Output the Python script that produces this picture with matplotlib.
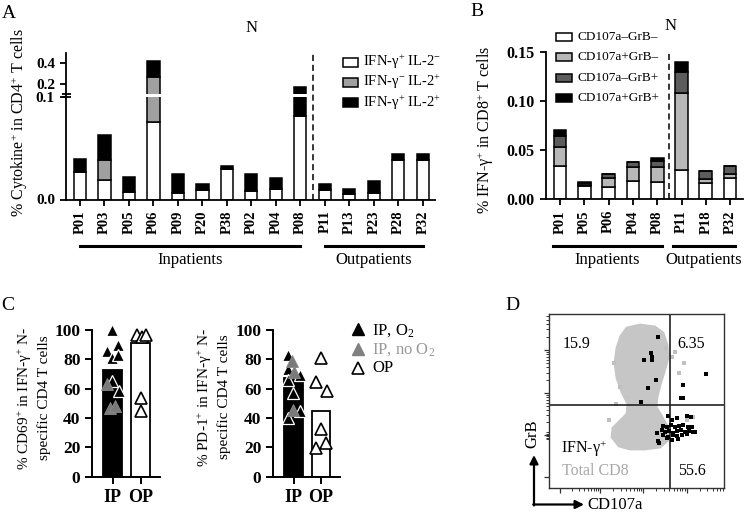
import numpy as np
import matplotlib
matplotlib.use("Agg")
import matplotlib.pyplot as plt
from matplotlib.patches import Rectangle, Polygon
from matplotlib.transforms import blended_transform_factory
from matplotlib.ticker import NullLocator, FixedLocator

plt.rcParams['font.family'] = ['Liberation Serif', 'DejaVu Serif']
plt.rcParams['mathtext.fontset'] = 'custom'
plt.rcParams['mathtext.rm'] = 'Liberation Serif'
plt.rcParams['mathtext.it'] = 'Liberation Serif:italic'
plt.rcParams['mathtext.bf'] = 'Liberation Serif:bold'

# ---------------- data ----------------
# Panel A
patients_A = ['P01', 'P03', 'P05', 'P06', 'P09', 'P20', 'P38', 'P02', 'P04', 'P08',
              'P11', 'P13', 'P23', 'P28', 'P32']
a_ifng_il2neg = [0.027, 0.019, 0.0074, 0.0753, 0.0068, 0.009, 0.030, 0.0083, 0.0103, 0.081,
                 0.009, 0.0051, 0.0068, 0.0388, 0.0388]
a_ifngneg_il2 = [0, 0.0194, 0, 0.192, 0, 0, 0, 0, 0, 0, 0, 0, 0, 0, 0]
a_ifng_il2 = [0.0128, 0.024, 0.0145, 0.153, 0.0178, 0.0065, 0.0026, 0.0169, 0.0107, 0.084,
              0.0065, 0.0049, 0.011, 0.0055, 0.0055]
a_n_inpatients = 10
a_legend = ['IFN-γ$^{+}$ IL-2$^{-}$', 'IFN-γ$^{-}$ IL-2$^{+}$', 'IFN-γ$^{+}$ IL-2$^{+}$']

# Panel B
patients_B = ['P01', 'P05', 'P06', 'P04', 'P08', 'P11', 'P18', 'P32']
b_neg_neg = [0.034, 0.013, 0.012, 0.0184, 0.017, 0.030, 0.016, 0.021]
b_pos_neg = [0.0187, 0.001, 0.009, 0.0146, 0.0153, 0.078, 0.004, 0.0045]
b_neg_pos = [0.0119, 0.0025, 0.0045, 0.0045, 0.0062, 0.022, 0.0086, 0.0085]
b_pos_pos = [0.0054, 0.0005, 0.0005, 0.0005, 0.0033, 0.0095, 0.0, 0.0]
b_n_inpatients = 5
b_legend = ['CD107a–GrB–', 'CD107a+GrB–', 'CD107a–GrB+', 'CD107a+GrB+']

# Panel C
c_groups = ['IP', 'OP']
cd69_bar = [72.7, 91.0]
cd69_ip_o2 = [100, 85.7, 89.5, 80.7, 83, 65.2, 58.6]
cd69_ip_o2_jit = [-0.02, -0.22, 0.2, -0.04, 0.2, -0.03, 0.22]
cd69_ip_no = [63, 46.6, 48.5]
cd69_ip_no_jit = [-0.22, -0.1, 0.09]
cd69_op = [96.5, 95.5, 96.5, 53.4, 45]
cd69_op_jit = [-0.12, 0.04, 0.19, 0.0, 0.0]

pd1_bar = [67.0, 45.0]
pd1_ip_o2 = [83, 73.2, 69.1, 65.9, 57.3, 39.8, 45]
pd1_ip_o2_jit = [-0.2, -0.2, 0.22, -0.2, -0.02, -0.2, 0.22]
pd1_ip_no = [79.1, 71.1, 45.5]
pd1_ip_no_jit = [-0.04, 0.02, -0.02]
pd1_op = [81.1, 64.3, 58.4, 32.3, 19.8, 22.7]
pd1_op_jit = [0.0, -0.19, 0.2, 0.0, -0.19, 0.19]

# Panel D (arbitrary channel units)
cloud_x = [234, 273, 318, 342, 354, 357, 345, 333, 324, 321, 339, 357, 357, 333, 288, 243,
           210, 189, 192, 213, 234, 237, 219, 204, 198, 204, 216]
cloud_y = [479, 488, 482, 464, 428, 389, 347, 308, 272, 242, 212, 179, 143, 122, 116, 116,
           125, 152, 179, 200, 221, 251, 287, 329, 374, 419, 455]
gray_x = [196, 378, 405, 391, 368, 213, 181, 413, 433, 200, 350]
gray_y = [373, 408, 375, 343, 393, 303, 203, 203, 213, 250, 420]
ifng_x = [328, 306, 308, 285, 310, 321, 298, 276, 471, 403, 401, 396,
          358, 368, 383, 413, 425, 343, 353, 365, 378, 391, 403, 416, 428,
          338, 349, 361, 373, 385, 397, 409, 421, 433, 323, 343, 358, 371, 383,
          398, 413, 328, 331, 353, 368, 388, 438]
ifng_y = [453, 403, 393, 383, 383, 323, 298, 258, 341, 308, 268, 268,
          215, 203, 208, 215, 213, 185, 183, 187, 181, 185, 188, 183, 181,
          173, 168, 171, 165, 170, 173, 168, 171, 167, 165, 158, 153, 157, 155,
          158, 161, 141, 135, 148, 143, 147, 168]
gate_x = 363
gate_y = 248
quad_labels = ['15.9', '6.35', '55.6']

# ---------------- figure ----------------
W, H = 747, 515
fig = plt.figure(figsize=(W / 100, H / 100), dpi=100)
fig.patch.set_facecolor('white')


def px_rect(l, t, r, b):
    return [l / W, 1 - b / H, (r - l) / W, (b - t) / H]


def style_axes(ax, lw=1.3):
    for s in ['top', 'right']:
        ax.spines[s].set_visible(False)
    for s in ['left', 'bottom']:
        ax.spines[s].set_linewidth(lw)
    ax.tick_params(width=lw, length=4.5, direction='out')


GRAY_A = '#a0a0a0'
LG_B = '#b8b8b8'
DG_B = '#5c5c5c'

# ---------- Panel A ----------
axA = fig.add_axes(px_rect(66, 53, 435, 199.5))
kA = 0.1
gapA = 0.0025


def fwd(v):
    v = np.asarray(v, float)
    return np.where(v <= 0.1, v, 0.1 + gapA + (v - 0.1) * kA)


def inv(u):
    u = np.asarray(u, float)
    return np.where(u <= 0.1, u,
                    np.where(u <= 0.1 + gapA, 0.1, 0.1 + (u - 0.1 - gapA) / kA))


axA.set_yscale('function', functions=(fwd, inv))
xA = np.arange(len(patients_A))
s1 = np.array(a_ifng_il2neg)
s2 = np.array(a_ifngneg_il2)
s3 = np.array(a_ifng_il2)
bw = 0.5
axA.bar(xA, s1, width=bw, color='white', edgecolor='k', lw=1.1, zorder=2)
axA.bar(xA, s2, bottom=s1, width=bw, color=GRAY_A, edgecolor='k', lw=1.1, zorder=2)
axA.bar(xA, s3, bottom=s1 + s2, width=bw, color='k', edgecolor='k', lw=1.1, zorder=2)
axA.set_ylim(0, 0.5)
axA.set_xlim(-0.57, 14.5)
axA.axhspan(0.1, 0.10001, xmin=0.03, xmax=1, color='white', lw=0, zorder=4)
axA.axvline(a_n_inpatients - 0.5, color='k', lw=1.1, ls=(0, (4, 2.5)), zorder=5)
axA.yaxis.set_major_locator(FixedLocator([0, 0.1, 0.2, 0.4]))
axA.yaxis.set_minor_locator(NullLocator())
axA.set_yticklabels(['0.0', '0.1', '0.2', '0.4'], fontsize=11, fontweight='bold')
axA.set_xticks(xA)
axA.set_xticklabels(patients_A, rotation=90, fontsize=10.5, fontweight='bold')
style_axes(axA)
axA.set_facecolor('none')

# ---------- Panel B ----------
axB = fig.add_axes(px_rect(546, 52, 743, 199))
xB = np.arange(len(patients_B))
c1 = np.array(b_neg_neg)
c2 = np.array(b_pos_neg)
c3 = np.array(b_neg_pos)
c4 = np.array(b_pos_pos)
bwB = 0.52
axB.bar(xB, c1, width=bwB, color='white', edgecolor='k', lw=1.1, zorder=2)
axB.bar(xB, c2, bottom=c1, width=bwB, color=LG_B, edgecolor='k', lw=1.1, zorder=2)
axB.bar(xB, c3, bottom=c1 + c2, width=bwB, color=DG_B, edgecolor='k', lw=1.1, zorder=2)
axB.bar(xB, c4, bottom=c1 + c2 + c3, width=bwB, color='k', edgecolor='k', lw=1.1, zorder=2)
axB.set_ylim(0, 0.15)
axB.set_xlim(-0.576, 7.53)
axB.axvline(b_n_inpatients - 0.5, color='k', lw=1.1, ls=(0, (4, 2.5)), zorder=3)
axB.set_yticks([0, 0.05, 0.10, 0.15])
axB.set_yticklabels(['0.00', '0.05', '0.10', '0.15'], fontsize=11.5, fontweight='bold')
axB.set_xticks(xB)
axB.set_xticklabels(patients_B, rotation=90, fontsize=10.5, fontweight='bold')
style_axes(axB)
axB.set_facecolor('none')

# ---------- Panel C ----------
def panel_c(rect, bars, ipo2, ipo2j, ipno, ipnoj, op, opj):
    ax = fig.add_axes(px_rect(*rect))
    xc = np.arange(2)
    ax.bar(xc, bars, width=0.68, color=['k', 'white'], edgecolor='k', lw=1.3, zorder=1)
    ax.plot(xc[0] + np.array(ipo2j), ipo2, ls='none', marker='^', ms=8, mfc='k',
            mec='white', mew=0.9, zorder=3, clip_on=False)
    ax.plot(xc[0] + np.array(ipnoj), ipno, ls='none', marker='^', ms=8, mfc='#7a7a7a',
            mec='#8a8a8a', mew=0.6, zorder=3, clip_on=False)
    ax.plot(xc[1] + np.array(opj), op, ls='none', marker='^', ms=8, mfc='white',
            mec='k', mew=1.2, zorder=3, clip_on=False)
    ax.set_ylim(0, 100)
    ax.set_xlim(-0.735, 1.69)
    ax.set_yticks([0, 20, 40, 60, 80, 100])
    ax.set_yticklabels(['0', '20', '40', '60', '80', '100'], fontsize=12.5, fontweight='bold')
    ax.set_xticks(xc)
    ax.set_xticklabels(c_groups, fontsize=13, fontweight='bold')
    style_axes(ax, lw=1.4)
    ax.tick_params(length=5)
    ax.set_facecolor('none')
    return ax


axC1 = panel_c((92.3, 330, 160, 476.7), cd69_bar, cd69_ip_o2, cd69_ip_o2_jit,
               cd69_ip_no, cd69_ip_no_jit, cd69_op, cd69_op_jit)
axC2 = panel_c((273.3, 330, 340, 476.7), pd1_bar, pd1_ip_o2, pd1_ip_o2_jit,
               pd1_ip_no, pd1_ip_no_jit, pd1_op, pd1_op_jit)

# ---------- Panel D ----------
axD = fig.add_axes(px_rect(549, 314, 724, 487.7))
axD.set_xlim(0, 525)
axD.set_ylim(0, 521)
axD.add_patch(Polygon(np.column_stack([cloud_x, cloud_y]), closed=True,
                      facecolor='#c6c6c6', edgecolor='#c6c6c6', lw=2, zorder=1))
axD.plot(gray_x, gray_y, ls='none', marker='s', ms=2.4, mew=0, color='#c0c0c0', zorder=1)
axD.plot(ifng_x, ifng_y, ls='none', marker='s', ms=2.9, mew=0, color='k', zorder=3)
axD.axvline(gate_x, color='#222222', lw=1.2, zorder=2)
axD.axhline(gate_y, color='#222222', lw=1.2, zorder=2)
for sp in axD.spines.values():
    sp.set_linewidth(1.0)
    sp.set_color('#333333')
axD.text(83, 431, quad_labels[0], fontsize=11.5, ha='center', va='center')
axD.text(428, 431, quad_labels[1], fontsize=11.5, ha='center', va='center')
axD.text(428, 51, quad_labels[2], fontsize=11.5, ha='center', va='center')
axD.text(36, 118, 'IFN-γ$^{+}$', fontsize=11.5, ha='left', va='center', color='k')
axD.text(40, 51, 'Total CD8', fontsize=11.5, ha='left', va='center', color='#a8a8a8')
# biexponential-like tick marks
xmaj = [33, 153, 283, 413]
ymaj = [33, 158, 283, 413]
xmin_t, ymin_t = [], []
for a, b in [(33, 153), (153, 283), (283, 413), (413, 543)]:
    for kk in range(2, 10):
        v = a + (b - a) * np.log10(kk)
        if v < 525:
            xmin_t.append(v)
for a, b in [(158, 283), (283, 413), (413, 543)]:
    for kk in range(2, 10):
        v = a + (b - a) * np.log10(kk)
        if v < 521:
            ymin_t.append(v)
ymin_t += [145, 150, 155, 162, 167]
axD.set_xticks(xmaj)
axD.set_yticks(ymaj)
axD.set_xticks(xmin_t, minor=True)
axD.set_yticks(ymin_t, minor=True)
axD.tick_params(which='major', length=3.5, width=0.9, labelbottom=False, labelleft=False,
                color='#333333')
axD.tick_params(which='minor', length=2, width=0.7, color='#333333')

# ---------- overlay for annotations ----------
ov = fig.add_axes([0, 0, 1, 1])
ov.set_xlim(0, W)
ov.set_ylim(H, 0)
ov.axis('off')

# panel letters
for lab, (lx, ly) in zip('ABCD', [(9, 13), (477, 12), (8, 305), (512, 305)]):
    ov.text(lx, ly, lab, fontsize=14, ha='center', va='center')

# titles N
ov.text(252, 28, 'N', fontsize=12, ha='center', va='center')
ov.text(671, 26, 'N', fontsize=12, ha='center', va='center')

# y labels
ov.text(20, 123, '% Cytokine$^{+}$ in CD4$^{+}$ T cells', rotation=90, fontsize=11.5,
        ha='center', va='center')
ov.text(486, 130, '% IFN-γ$^{+}$ in CD8$^{+}$ T cells', rotation=90, fontsize=11.5,
        ha='center', va='center')
ov.text(33, 398, '% CD69$^{+}$ in IFN-γ$^{+}$ N-\nspecific CD4 T cells', rotation=90,
        fontsize=11, ha='center', va='center', linespacing=1.3, multialignment='center')
ov.text(213, 397, '% PD-1$^{+}$ in IFN-γ$^{+}$ N-\nspecific CD4 T cells', rotation=90,
        fontsize=11, ha='center', va='center', linespacing=1.3, multialignment='center')

# break marks on panel A axis
yb = H - axA.transData.transform((0, 0.1))[1]
xs = axA.transData.transform((-0.57, 0))[0]
for dy in (0.2, -2.8):
    ov.plot([xs - 4.5, xs + 4.5], [yb + dy, yb + dy], color='k', lw=1.3, solid_capstyle='butt')

# group bars
trA = blended_transform_factory(axA.transData, ov.transData)
trB = blended_transform_factory(axB.transData, ov.transData)
ov.plot([0, a_n_inpatients - 1], [245.5, 245.5], transform=trA, color='k', lw=2.2)
ov.plot([a_n_inpatients, len(patients_A) - 1], [245.5, 245.5], transform=trA, color='k', lw=2.2)
ov.text((a_n_inpatients - 1) / 2, 259.5, 'Inpatients', transform=trA, fontsize=12,
        ha='center', va='center')
ov.text((a_n_inpatients + len(patients_A) - 1) / 2, 259.5, 'Outpatients', transform=trA,
        fontsize=12, ha='center', va='center')
ov.plot([-0.3, b_n_inpatients - 0.8], [246, 246], transform=trB, color='k', lw=2.2)
ov.plot([b_n_inpatients - 0.35, len(patients_B) - 0.8], [246, 246], transform=trB,
        color='k', lw=2.2)
ov.text((b_n_inpatients - 1.1) / 2, 259.5, 'Inpatients', transform=trB, fontsize=12,
        ha='center', va='center')
ov.text((b_n_inpatients - 0.35 + len(patients_B) - 0.8) / 2, 259.5, 'Outpatients',
        transform=trB, fontsize=12, ha='center', va='center')

# legend A
for lab, col, yy in zip(a_legend, ['white', GRAY_A, 'k'], [62.3, 82.3, 102.5]):
    ov.add_patch(Rectangle((343, yy - 4.5), 15, 9, facecolor=col, edgecolor='k', lw=1.1))
    ov.text(363, yy, lab, fontsize=10.5, ha='left', va='center')

# legend B
for lab, col, yy in zip(b_legend, ['white', LG_B, DG_B, 'k'], [36.5, 57.3, 77.7, 98.3]):
    ov.add_patch(Rectangle((556, yy - 4), 16, 8, facecolor=col, edgecolor='k', lw=1.1))
    ov.text(578, yy, lab, fontsize=9.5, ha='left', va='center')

# legend C
ov.plot(358, 329, marker='^', ms=8.5, color='k')
ov.text(372, 331, 'IP, O$_{2}$', fontsize=12, ha='left', va='center')
ov.plot(358, 348.5, marker='^', ms=8.5, mfc='#808080', mec='#808080')
ov.text(372, 350, 'IP, no O$_{2}$', fontsize=12, ha='left', va='center', color='#999999')
ov.plot(358, 368, marker='^', ms=8.5, mfc='white', mec='k', mew=1.2)
ov.text(372, 368, 'OP', fontsize=12, ha='left', va='center')

# Panel D axis arrows
ov.annotate('', xy=(534, 455), xytext=(534, 505.5),
            arrowprops=dict(arrowstyle='-|>,head_length=0.5,head_width=0.25', color='k', lw=1.6,
                            shrinkA=0, shrinkB=0))
ov.annotate('', xy=(584, 504.5), xytext=(533.2, 504.5),
            arrowprops=dict(arrowstyle='-|>,head_length=0.5,head_width=0.25', color='k', lw=1.6,
                            shrinkA=0, shrinkB=0))
ov.text(532, 434, 'GrB', rotation=90, fontsize=12, ha='center', va='center')
ov.text(587, 505, 'CD107a', fontsize=12, ha='left', va='center')

fig.savefig('out.png', dpi=100, facecolor='white')
